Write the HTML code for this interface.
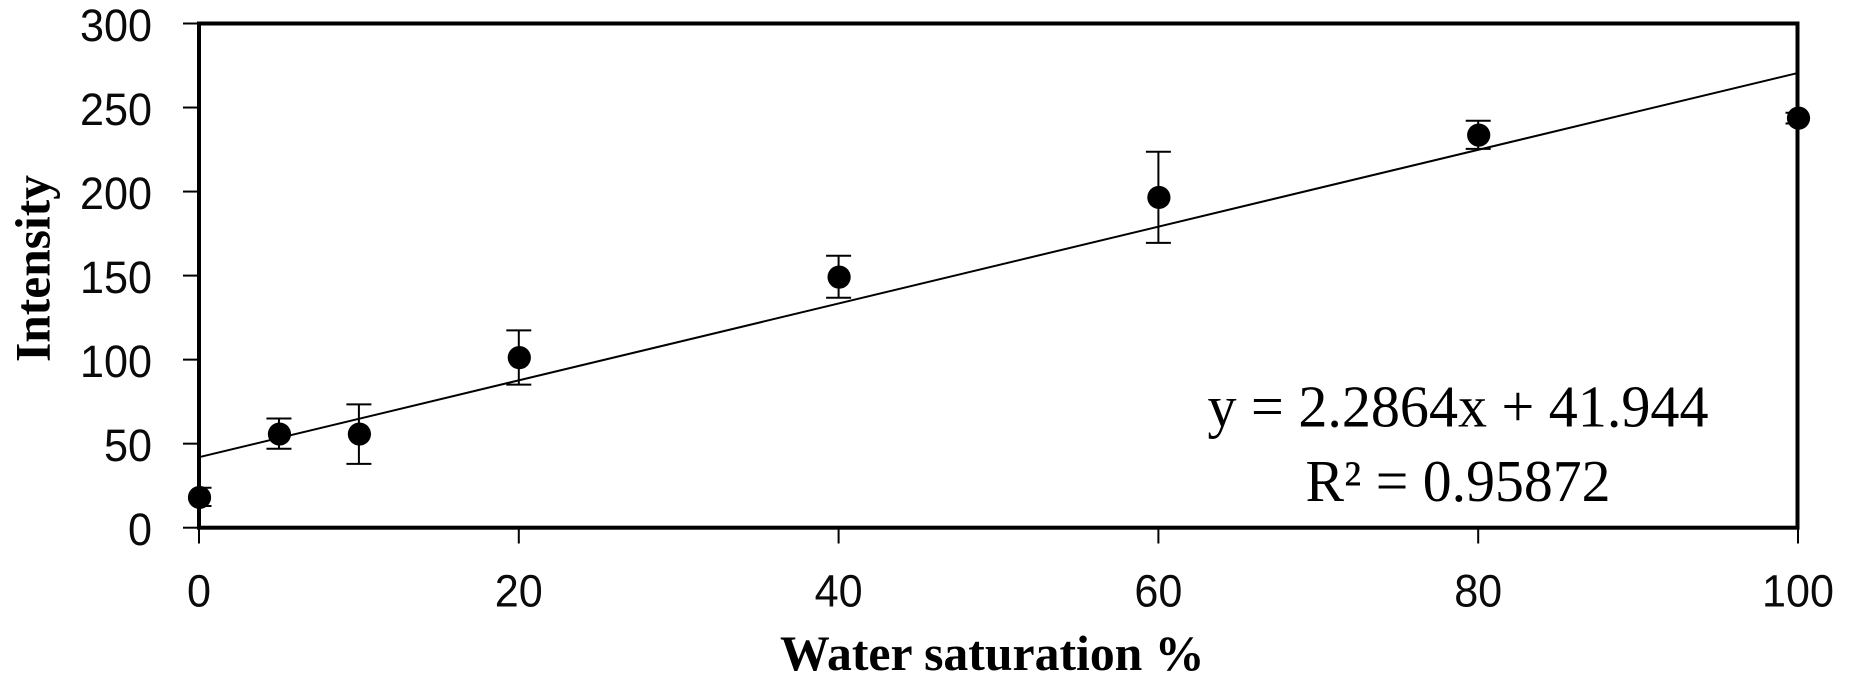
<!DOCTYPE html>
<html lang="en">
<head>
<meta charset="utf-8">
<title>Intensity vs Water saturation</title>
<style>
html,body{margin:0;padding:0;background:#fff;width:1850px;height:690px;overflow:hidden}
svg{display:block}
.tick{font-family:"Liberation Sans",sans-serif;font-size:45px;fill:#0a0a0a}
.title{font-family:"Liberation Serif",serif;font-size:50px;font-weight:bold;fill:#000}
.eq{font-family:"Liberation Serif",serif;font-size:59px;fill:#000}
</style>
</head>
<body>
<svg id="chart" width="1850" height="690" viewBox="0 0 1850 690" xmlns="http://www.w3.org/2000/svg">
  <defs>
    <clipPath id="plot-clip"><rect x="199" y="23.5" width="1599" height="504.2"/></clipPath>
  </defs>
  <rect x="0" y="0" width="1850" height="690" fill="#fff"/>
  <g id="ticks"></g>
  <rect x="199" y="23.5" width="1598.5" height="504.2" fill="none" stroke="#000" stroke-width="4"/>
  <g id="marks"></g>
  <text class="title" x="780" y="670" textLength="424.5" lengthAdjust="spacingAndGlyphs">Water saturation %</text>
  <text class="title" transform="translate(49.5,362) rotate(-90)" textLength="187" lengthAdjust="spacingAndGlyphs">Intensity</text>
  <text class="eq" x="1207.5" y="426.7" textLength="501" lengthAdjust="spacingAndGlyphs">y = 2.2864x + 41.944</text>
  <text class="eq" x="1305.5" y="501" textLength="305" lengthAdjust="spacingAndGlyphs">R² = 0.95872</text>
</svg>
<script>
const saturation = [0, 5, 10, 20, 40, 60, 80, 100];
const intensity = [18, 55.7, 55.7, 101.2, 149.1, 196.5, 233.6, 243.7];
const errorUpper = [23.8, 65, 73.4, 117.4, 161.8, 223.7, 242.1, 246.9];
const errorLower = [12.9, 47, 38, 85.1, 136.8, 169.5, 225.4, 240.5];
const xTicks = [0, 20, 40, 60, 80, 100];
const yTicks = [0, 50, 100, 150, 200, 250, 300];
const trendSlope = 2.2864;
const trendIntercept = 41.944;
const trendRange = [0, 100];

const SVG_NS = 'http://www.w3.org/2000/svg';
const DIGIT_ADVANCE = 24;
const xScale = v => 199 + (v - 0) * (1798 - 199) / 100;
const yScale = v => 527.7 - v * (527.7 - 23.5) / 300;

function make(tag, attrs, parent) {
  const el = document.createElementNS(SVG_NS, tag);
  for (const k in attrs) el.setAttribute(k, attrs[k]);
  parent.appendChild(el);
  return el;
}

const tickLayer = document.getElementById('ticks');
const markLayer = document.getElementById('marks');

xTicks.forEach(t => {
  const x = xScale(t);
  const line = make('line', {x1: x, x2: x, y1: 527.7, y2: 543.5, stroke: '#000', 'stroke-width': 2}, tickLayer);
  
  
  const label = make('text', {x: x, y: 606.5, 'text-anchor': 'middle', class: 'tick', textLength: String(t).length * DIGIT_ADVANCE, lengthAdjust: 'spacingAndGlyphs'}, tickLayer);
  
  
  label.textContent = t;
});

yTicks.forEach(t => {
  const y = yScale(t);
  const line = make('line', {x1: 183, x2: 199, y1: y, y2: y, stroke: '#000', 'stroke-width': 2}, tickLayer);
  
  
  const label = make('text', {x: 152, y: y + 17.5, 'text-anchor': 'end', class: 'tick', textLength: String(t).length * DIGIT_ADVANCE, lengthAdjust: 'spacingAndGlyphs'}, tickLayer);
  
  
  label.textContent = t;
});

const trend = make('line', {
  x1: xScale(trendRange[0]),
  y1: yScale(trendSlope * trendRange[0] + trendIntercept),
  x2: xScale(trendRange[1]),
  y2: yScale(trendSlope * trendRange[1] + trendIntercept),
  stroke: '#000',
  'stroke-width': 2
}, markLayer);



saturation.forEach((s, i) => {
  const x = xScale(s);
  const yHi = yScale(errorUpper[i]);
  const yLo = yScale(errorLower[i]);
  const stem = make('line', {x1: x, x2: x, y1: yHi, y2: yLo, stroke: '#000', 'stroke-width': 2}, markLayer);
  
  
  const capTop = make('line', {x1: x - 12.5, x2: x + 12.5, y1: yHi, y2: yHi, stroke: '#000', 'stroke-width': 2, 'clip-path': 'url(#plot-clip)'}, markLayer);
  
  
  const capBottom = make('line', {x1: x - 12.5, x2: x + 12.5, y1: yLo, y2: yLo, stroke: '#000', 'stroke-width': 2, 'clip-path': 'url(#plot-clip)'}, markLayer);
  
  
});

saturation.forEach((s, i) => {
  const dot = make('circle', {cx: xScale(s) + 0.5, cy: yScale(intensity[i]), r: 11.6, fill: '#000'}, markLayer);
  
  
});
</script>
</body>
</html>
